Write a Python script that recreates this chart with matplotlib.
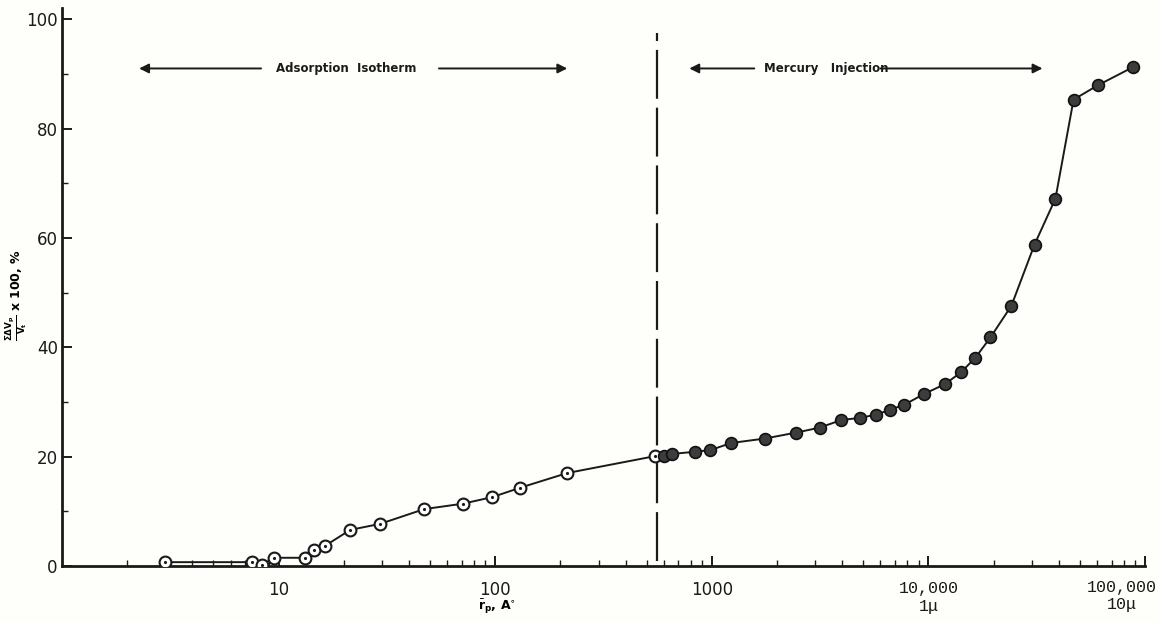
import numpy as np
import matplotlib.pyplot as plt
from matplotlib.ticker import FixedLocator, LogLocator, NullFormatter

# adsorption isotherm points (open circles)
r_ads = [3.0, 7.55, 8.4, 9.5, 13.3, 14.6, 16.4, 21.4, 29.4, 47, 71, 97, 130, 215, 548]
v_ads = [0.7, 0.7, 0.2, 1.5, 1.5, 2.9, 3.7, 6.6, 7.7, 10.4, 11.4, 12.6, 14.3, 17.0, 20.1]

# mercury injection points (filled circles)
r_hg = [604, 658, 840, 985, 1230, 1750, 2455, 3140, 3965, 4850, 5750, 6670, 7740,
        9580, 11970, 14190, 16470, 19320, 24150, 30880, 38560, 46750, 60350, 87500]
v_hg = [20.2, 20.5, 20.9, 21.2, 22.5, 23.3, 24.4, 25.3, 26.7, 27.1, 27.7, 28.6, 29.5,
        31.5, 33.3, 35.5, 38.1, 41.8, 47.6, 58.8, 67.2, 85.3, 87.9, 91.2]

split_r = 560
xticks = [10, 100, 1000, 10000, 100000]
xticklabels = ['10', '100', '1000', '10,000\n1\u03bc', '100,000\n10\u03bc']
yticks = [0, 20, 40, 60, 80, 100]

fig = plt.figure(figsize=(11.59, 6.21), dpi=100, facecolor='#fefefb')
ax = fig.add_axes([0.0535, 0.0886, 0.9345, 0.898])
ax.set_facecolor('#fefefb')

r_all = r_ads + r_hg
v_all = v_ads + v_hg
ax.plot(r_all, v_all, color='#1a1a1a', lw=1.4, zorder=2)
ax.plot(r_ads, v_ads, 'o', ms=8.5, mfc='white', mec='#1a1a1a', mew=1.5, zorder=3)
ax.plot(r_ads, v_ads, '.', ms=2.5, color='#1a1a1a', zorder=4)
ax.plot(r_hg, v_hg, 'o', ms=8.5, mfc='#3c3c3c', mec='#111111', mew=1.2, zorder=3)

# boundary between methods
ax.plot([split_r, split_r], [1, 97.5], color='#1a1a1a', lw=1.6,
        linestyle=(0, (22, 4)), zorder=1)

# section labels with arrows
txt_kw = dict(fontsize=8.5, fontweight='bold', va='center', color='#1a1a1a')
ax.text(20.5, 91, 'Adsorption  Isotherm', ha='center', **txt_kw)
ax.text(1746, 91, 'Mercury   Injection', ha='left', **txt_kw)
arr = dict(arrowstyle='-|>', lw=1.4, color='#1a1a1a', mutation_scale=14,
           shrinkA=0, shrinkB=0)
ax.annotate('', xy=(2.27, 91), xytext=(8.3, 91), arrowprops=arr)
ax.annotate('', xy=(215, 91), xytext=(55, 91), arrowprops=arr)
ax.annotate('', xy=(787, 91), xytext=(1570, 91), arrowprops=arr)
ax.annotate('', xy=(33600, 91), xytext=(6000, 91), arrowprops=arr)

ax.set_xscale('log')
ax.set_xlim(1, 1.0e5)
ax.set_ylim(0, 102)
ax.xaxis.set_major_locator(FixedLocator(xticks))
ax.xaxis.set_minor_locator(LogLocator(base=10, subs=np.arange(2, 10)))
ax.xaxis.set_minor_formatter(NullFormatter())
# last label is drawn by hand, left of its tick as in the original
ax.set_xticklabels(xticklabels[:-1] + [''])
labs = ax.get_xticklabels()
for lab in labs[3:]:
    lab.set_family('Liberation Mono')
    lab.set_fontsize(12)
ax.annotate(xticklabels[-1], xy=(xticks[-1], 0), xycoords=('data', 'axes fraction'),
            xytext=(-23, -14), textcoords='offset pixels', ha='center', va='top',
            family='Liberation Mono', fontsize=12, color='#1a1a1a')
ax.set_yticks(yticks)
ax.set_yticks([10, 30, 50, 70, 90], minor=True)

ax.tick_params(axis='both', which='major', direction='in', length=7, width=1.4,
               labelsize=12, colors='#1a1a1a')
ax.tick_params(axis='both', which='minor', direction='in', length=4, width=1.0,
               colors='#1a1a1a')
ax.tick_params(axis='x', which='major', pad=11)
ax.tick_params(axis='y', which='major', pad=3)

for s in ['top', 'right']:
    ax.spines[s].set_visible(False)
for s in ['left', 'bottom']:
    ax.spines[s].set_linewidth(2)
    ax.spines[s].set_color('#1a1a1a')

fig.text(497 / 1159, 1 - 607 / 621, r'$\bar{\mathbf{r}}_{\mathbf{p}}$, A$^{\circ}$',
         fontsize=9, fontweight='bold', ha='center', va='center')
fig.text(0.003, 1 - 295 / 621, r'$\mathbf{\frac{\Sigma\Delta V_p}{V_t}}$ x 100, %',
         fontsize=9, fontweight='bold', rotation=90, ha='left', va='center')

fig.savefig('out.png', dpi=100, facecolor=fig.get_facecolor())
